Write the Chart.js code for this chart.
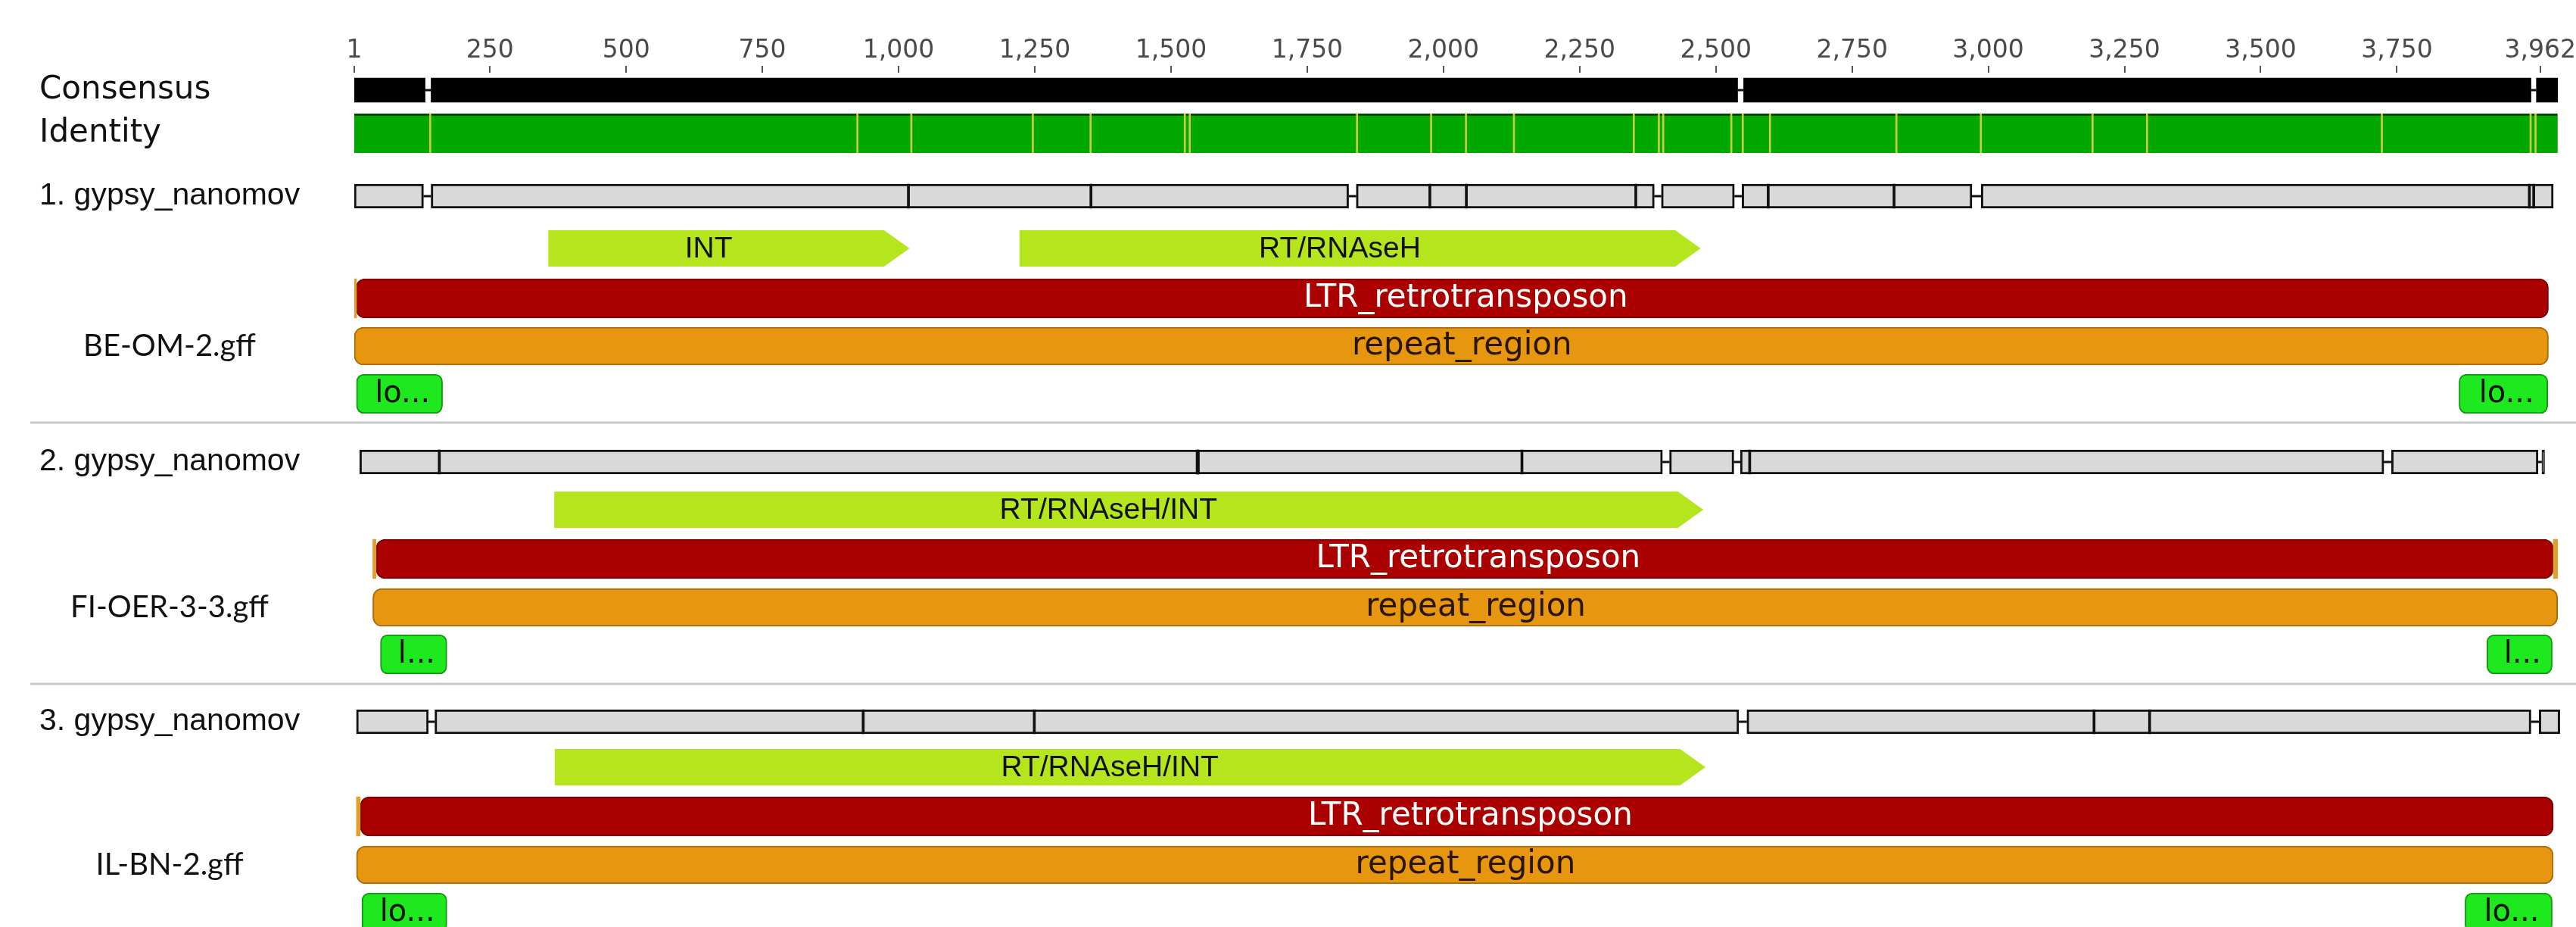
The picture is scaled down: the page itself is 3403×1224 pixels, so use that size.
<!DOCTYPE html>
<html><head><meta charset="utf-8">
<script src="https://cdn.jsdelivr.net/npm/chart.js@4.4.1/dist/chart.umd.min.js"></script>
<style>html,body{margin:0;padding:0;background:#fff;overflow:hidden}canvas{display:block}</style>
</head><body>
<canvas id="c" width="3403" height="1224"></canvas>
<script>
// ---------------- DATA (alignment columns) ----------------
const tickColumns = [1,250,500,750,1000,1250,1500,1750,2000,2250,2500,2750,3000,3250,3500,3750,4013];
const tickLabels  = ['1','250','500','750','1,000','1,250','1,500','1,750','2,000','2,250','2,500','2,750','3,000','3,250','3,500','3,750','3,962'];

const consensusSegments = [[1,131],[142,2540],[2551,3996],[4006,4045]];
const identitySpan = [1,4045];
const identityDips = [139,923,1022,1245,1351,1524,1533,1840,1976,2040,2128,2348,2394,2402,2527,2548,2598,2830,2985,3190,3290,3721,3994,4003];

const trackNames = ['1. gypsy_nanomov','2. gypsy_nanomov','3. gypsy_nanomov'];
const gffNames   = ['BE-OM-2.gff','FI-OER-3-3.gff','IL-BN-2.gff'];

const alignedSegments1 = [[1,128],[142,1826],[1840,2387],[2400,2534],[2548,2970],[2987,4037]];
const alignedSegments2 = [[11,2402],[2415,2533],[2545,3726],[3740,4009],[4016,4021]];
const alignedSegments3 = [[5,137],[149,2542],[2557,3996],[4011,4049]];

const disagreements1 = [1016,1351,1973,2040,2351,2594,2825,3991,3999];
const disagreements2 = [155,1546,1548,2142,2560];
const disagreements3 = [933,1247,3192,3294];

const domainLabels = [['INT','RT/RNAseH'],['RT/RNAseH/INT'],['RT/RNAseH/INT']];
const domainSpans  = [[[357,1020],[1222,2472]],[[368,2477]],[[369,2481]]];

const ltrSpans    = [[4,4028],[41,4037],[12,4037]];
const tsdSpans    = [[[1,4]],[[35,41],[4037,4045]],[[5,12]]];
const repeatSpans = [[1,4028],[35,4045],[5,4037]];
const terminalRepeatSpans  = [[[5,163],[3864,4027]],[[49,171],[3915,4035]],[[15,171],[3875,4035]]];
const terminalRepeatLabels = [['lo...','lo...'],['l...','l...'],['lo...','lo...']];

// ---------------- LAYOUT / STYLE ----------------
const LANE = {
  consensus: 119, identity: 176,
  tracks: [
    {seq:259, domain:328, ltr:394, rep:457, lo:520},
    {seq:610, domain:673, ltr:738, rep:802, lo:864},
    {seq:953, domain:1013, ltr:1078, rep:1142, lo:1205}
  ],
  separators: [558, 903]
};
const H = {consensus:32, identity:52, seq:32, domain:48, ltr:52, rep:50, lo:52};
const C = {
  consensus:'#000000', identity:'#00a800', identityEdge:'#0b3d0b', dip:'#c9cf3a',
  seqFill:'#d9d9d9', seqEdge:'#111111', domain:'#b5e61d',
  ltr:'#aa0000', ltrEdge:'#7a0000', tsd:'#e0a030', rep:'#e6960f', repEdge:'#a86a0c',
  lo:'#1ee81e', loEdge:'#119a11', sep:'#c8c8c8'
};
const LEFT_LABELS = [
  {text:'Consensus', x:52, lane:LANE.consensus, font:'42px "DejaVu Sans"', align:'left'},
  {text:'Identity',  x:52, lane:LANE.identity,  font:'42px "DejaVu Sans"', align:'left'},
];
const alignedSegments = [alignedSegments1, alignedSegments2, alignedSegments3];
const disagreements = [disagreements1, disagreements2, disagreements3];

// ---------------- DATASETS ----------------
const bar = (label, data, extra) => Object.assign({label, data, grouped:false, borderSkipped:false, borderWidth:0}, extra);
const datasets = [];
datasets.push(bar('identity dips', identityDips.map(c => ({x:[c, c+1], y:LANE.identity})),
  {backgroundColor:C.dip, barThickness:H.identity, minBarLength:2, order:1}));
datasets.push(bar('identity', [{x:identitySpan, y:LANE.identity}],
  {backgroundColor:C.identity, borderColor:C.identityEdge, borderWidth:{top:3,bottom:0,left:0,right:0}, barThickness:H.identity, order:6}));
datasets.push(bar('consensus', consensusSegments.map(s => ({x:s, y:LANE.consensus})),
  {backgroundColor:C.consensus, barThickness:H.consensus, order:6}));

LANE.tracks.forEach((T, t) => {
  datasets.push(bar(trackNames[t], alignedSegments[t].map(s => ({x:s, y:T.seq})),
    {backgroundColor:C.seqFill, borderColor:C.seqEdge, borderWidth:3, barThickness:H.seq, order:6}));
  datasets.push(bar(trackNames[t]+' diffs', disagreements[t].map(c => ({x:[c, c+1], y:T.seq})),
    {backgroundColor:C.seqEdge, barThickness:H.seq, minBarLength:3, order:1}));
  datasets.push(bar('LTR_retrotransposon '+t, [{x:ltrSpans[t], y:T.ltr}],
    {backgroundColor:C.ltr, borderColor:C.ltrEdge, borderWidth:2, borderRadius:12, barThickness:H.ltr, order:5}));
  datasets.push(bar('tsd '+t, tsdSpans[t].map(s => ({x:s, y:T.ltr})),
    {backgroundColor:C.tsd, barThickness:H.ltr, minBarLength:3, order:2}));
  datasets.push(bar('repeat_region '+t, [{x:repeatSpans[t], y:T.rep}],
    {backgroundColor:C.rep, borderColor:C.repEdge, borderWidth:2, borderRadius:12, barThickness:H.rep, order:5}));
  datasets.push(bar('long_terminal_repeat '+t, terminalRepeatSpans[t].map(s => ({x:s, y:T.lo})),
    {backgroundColor:C.lo, borderColor:C.loEdge, borderWidth:2, borderRadius:10, barThickness:H.lo, order:5}));
});

// ---------------- PLUGIN: arrows, connectors, texts ----------------
const annot = {
  id:'annot',
  afterDatasetsDraw(chart) {
    const {ctx, scales:{x, y}} = chart;
    const px = v => x.getPixelForValue(v), py = v => y.getPixelForValue(v);
    ctx.save();
    ctx.strokeStyle = C.sep; ctx.lineWidth = 3;
    LANE.separators.forEach(s => { ctx.beginPath(); ctx.moveTo(40, py(s)); ctx.lineTo(chart.width, py(s)); ctx.stroke(); });
    const connect = (segs, lane) => {
      ctx.strokeStyle = '#111'; ctx.lineWidth = 3;
      for (let i = 0; i < segs.length - 1; i++) {
        ctx.beginPath(); ctx.moveTo(px(segs[i][1]), py(lane)); ctx.lineTo(px(segs[i+1][0]), py(lane)); ctx.stroke();
      }
    };
    connect(consensusSegments, LANE.consensus);
    LANE.tracks.forEach((T, t) => connect(alignedSegments[t], T.seq));
    LANE.tracks.forEach((T, t) => {
      domainSpans[t].forEach((s, k) => {
        const x1 = px(s[0]), x2 = px(s[1]), yc = py(T.domain), h = H.domain, tip = h * 0.7;
        ctx.fillStyle = C.domain;
        ctx.beginPath();
        ctx.moveTo(x1, yc - h/2); ctx.lineTo(x2 - tip, yc - h/2); ctx.lineTo(x2, yc);
        ctx.lineTo(x2 - tip, yc + h/2); ctx.lineTo(x1, yc + h/2); ctx.closePath(); ctx.fill();
        ctx.fillStyle = '#111'; ctx.font = '39px "Liberation Sans"';
        ctx.textAlign = 'center'; ctx.textBaseline = 'middle';
        ctx.fillText(domainLabels[t][k], (x1 + x2 - tip) / 2 - 10, yc + 1);
      });
      ctx.textAlign = 'center'; ctx.textBaseline = 'middle';
      ctx.font = '42px "DejaVu Sans"';
      ctx.fillStyle = '#ffffff';
      ctx.fillText('LTR_retrotransposon', (px(ltrSpans[t][0]) + px(ltrSpans[t][1])) / 2 + 18, py(T.ltr));
      ctx.fillStyle = '#2a1500';
      ctx.fillText('repeat_region', (px(repeatSpans[t][0]) + px(repeatSpans[t][1])) / 2 + 14, py(T.rep));
      ctx.fillStyle = '#111';
      ctx.font = '40px "DejaVu Sans"';
      terminalRepeatSpans[t].forEach((s, k) => {
        ctx.fillText(terminalRepeatLabels[t][k], (px(s[0]) + px(s[1])) / 2 + 4, py(T.lo) + 1);
      });
      ctx.fillStyle = '#111'; ctx.textAlign = 'left';
      ctx.font = '41px "Liberation Sans"';
      ctx.fillText(trackNames[t], 52, py(T.seq));
      ctx.textAlign = 'center'; ctx.font = '40px Lato';
      ctx.fillText(gffNames[t], 224, py(T.rep));
    });
    LEFT_LABELS.forEach(l => {
      ctx.fillStyle = '#111'; ctx.font = l.font; ctx.textAlign = l.align; ctx.textBaseline = 'middle';
      ctx.fillText(l.text, l.x, py(l.lane));
    });
    ctx.restore();
  }
};

Chart.defaults.font.family = '"DejaVu Sans"';
new Chart(document.getElementById('c'), {
  type:'bar',
  data:{datasets},
  options:{
    indexAxis:'y', responsive:false, animation:false, devicePixelRatio:1,
    layout:{padding:{left:468, right:3, top:0, bottom:0}, autoPadding:false},
    plugins:{legend:{display:false}, tooltip:{enabled:false}},
    scales:{
      x:{
        type:'linear', position:'top', min:1, max:4061, offset:false,
        afterFit: s => { s.height = 96; },
        afterBuildTicks: s => { s.ticks = tickColumns.map(v => ({value:v})); },
        ticks:{autoSkip:false, maxRotation:0, padding:0, color:'#4a4a4a', font:{size:33},
               callback:(v, i) => tickLabels[i]},
        grid:{drawOnChartArea:false, drawTicks:true, tickLength:9, color:'#555', lineWidth:2},
        border:{display:false}
      },
      y:{type:'linear', display:false, min:96, max:1224, reverse:true, offset:false}
    }
  },
  plugins:[annot]
});
</script>
</body></html>
